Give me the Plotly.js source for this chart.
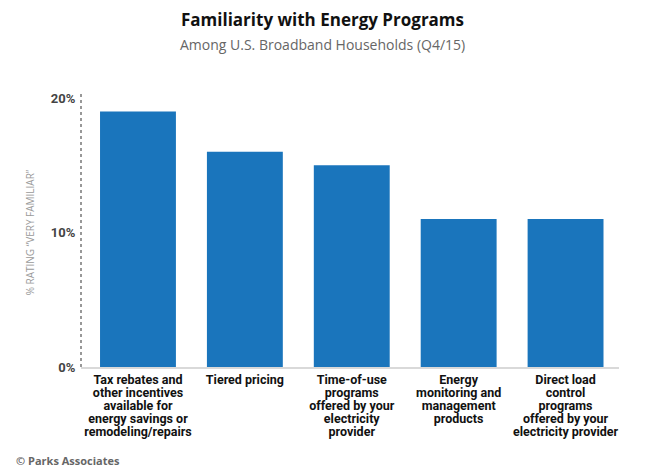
<!DOCTYPE html>
<html>
<head>
<meta charset="utf-8">
<script src="https://cdn.plot.ly/plotly-3.0.1.min.js"></script>
<style>html,body{margin:0;padding:0;background:#fff;}#chart{width:645px;height:475px;}</style>
</head>
<body>
<div id="chart"></div>
<script>
const categories = [
  "Tax rebates and<br>other incentives<br>available for<br>energy savings or<br>remodeling/repairs",
  "Tiered pricing",
  "Time-of-use<br>programs<br>offered by your<br>electricity<br>provider",
  "Energy<br>monitoring and<br>management<br>products",
  "Direct load<br>control<br>programs<br>offered by your<br>electricity provider"
];
const values = [19, 16, 15, 11, 11];
const tickVals = [0, 10, 20];
const tickText = ["0%", "10%", "20%"];

const labelFont = "Roboto, 'Liberation Sans Narrow', sans-serif";

const trace = {
  type: "bar",
  x: categories,
  y: values,
  marker: {color: "#1a75bc"},
  hoverinfo: "skip"
};

const layout = {
  width: 645, height: 475,
  margin: {l: 81, r: 25.5, t: 98, b: 107.5},
  paper_bgcolor: "#fff", plot_bgcolor: "#fff",
  showlegend: false,
  bargap: 0.29,
  xaxis: {
    type: "category",
    range: [-0.533, 4.5],
    showgrid: false, zeroline: false,
    showline: true, linecolor: "#d9d9d9", linewidth: 1.5,
    ticks: "", tickangle: 0,
    tickfont: {family: labelFont, size: 12.5, color: "#111", weight: "bold"}
  },
  yaxis: {
    range: [0, 20],
    tickvals: tickVals, ticktext: tickText,
    showgrid: false, zeroline: false, showline: false,
    ticks: "outside", ticklen: 2, tickcolor: "rgba(0,0,0,0)",
    tickfont: {family: labelFont, size: 13, color: "#444", weight: "bold"},
    title: {text: "% RATING \u201CVERY FAMILIAR\u201D", font: {family: "'Open Sans', sans-serif", size: 10, color: "#9a9a9a"}, standoff: 14}
  },
  shapes: [{
    type: "line", xref: "paper", yref: "paper",
    x0: 0, x1: 0, y0: 0, y1: 1.02,
    line: {color: "#777", width: 1.5, dash: "dot"}
  }],
  annotations: [
    {text: "<b>Familiarity with Energy Programs</b>", xref: "paper", yref: "paper", x: 0.5, xanchor: "center", y: 1, yshift: 79, yanchor: "middle", showarrow: false, font: {family: "'Open Sans', sans-serif", size: 17, color: "#111"}, xshift: -28},
    {text: "Among U.S. Broadband Households (Q4/15)", xref: "paper", yref: "paper", x: 0.5, xanchor: "center", y: 1, yshift: 54, yanchor: "middle", showarrow: false, font: {family: "'Open Sans', sans-serif", size: 14, color: "#666"}, xshift: -28},
    {text: "<b>© Parks Associates</b>", xref: "paper", yref: "paper", x: 0, xanchor: "left", xshift: -67, y: 0, yshift: -93, yanchor: "middle", showarrow: false, font: {family: "'Open Sans', sans-serif", size: 11, color: "#666"}}
  ]
};

function tighten() {
  document.querySelectorAll("#chart .xtick text tspan.line").forEach(function (t) {
    const dy = parseFloat(t.getAttribute("dy"));
    if (!isNaN(dy) && dy !== 0) t.setAttribute("dy", (dy / 1.3 * 1.05) + "em");
  });
}

Plotly.newPlot("chart", [trace], layout, {displayModeBar: false, staticPlot: true}).then(tighten);
</script>
</body>
</html>
